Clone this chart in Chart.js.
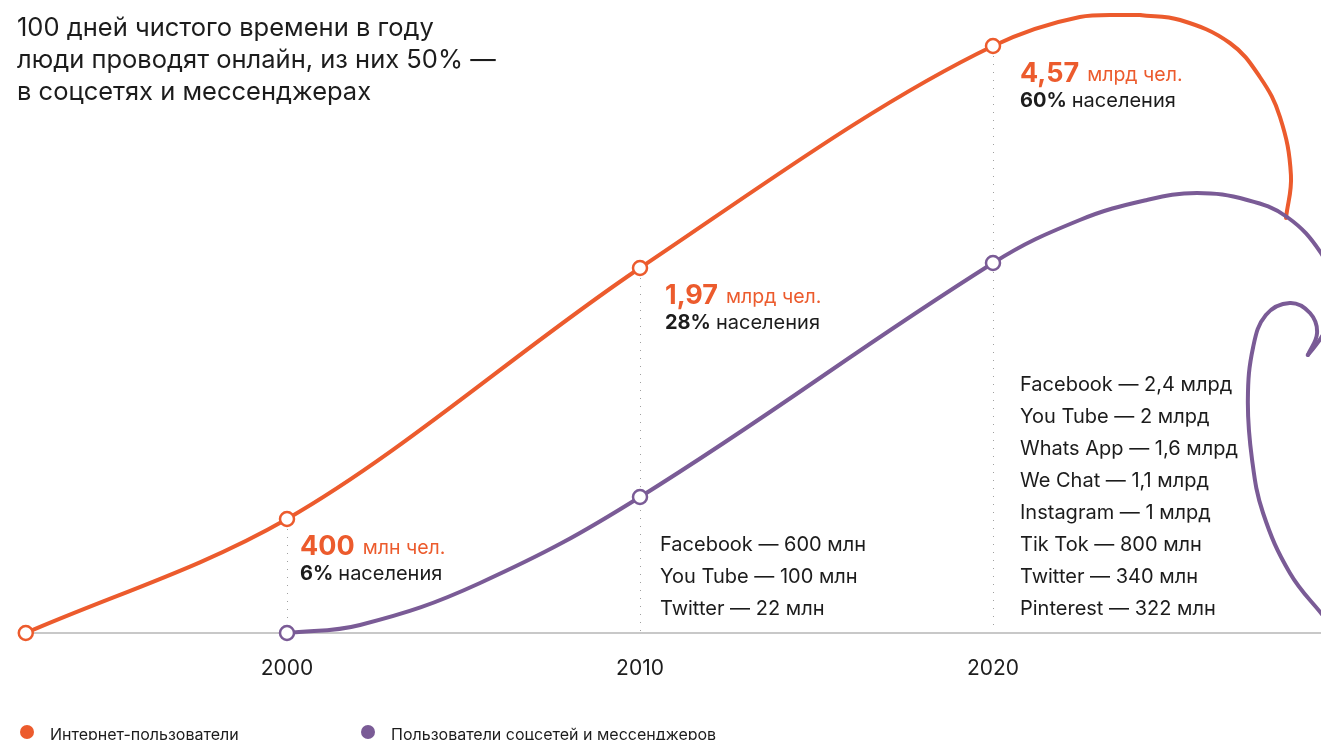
<!DOCTYPE html>
<html>
<head>
<meta charset="utf-8">
<script src="https://cdn.jsdelivr.net/npm/chart.js@4"></script>
<style>
  html, body { margin: 0; padding: 0; background: #fff; }
  #wrap { width: 1321px; height: 740px; overflow: hidden; }
</style>
</head>
<body>
<div id="wrap"><canvas id="chart" width="1321" height="740"></canvas></div>
<script>
// --- data ---
// heights are the visual height of each point above the baseline (the chart is not to scale)
const internetYears = [1992.6, 2000, 2010, 2020, 2022.46, 2023.31, 2024.16];
const internetHeight = [0, 114, 365, 587, 616, 618, 618];
const internetMarkers = [true, true, true, true, false, false, false];
const socialYears = [2000, 2002.07, 2005.47, 2010, 2020];
const socialHeight = [0, 8, 50, 136, 370];
const socialMarkers = [true, false, false, true, true];

// decorative continuation of the curves past 2020 (loops at the right edge)
const internetTailYears = [2024.16, 2025.3, 2026.71, 2027.56, 2028.13, 2028.44, 2028.3];
const internetTailHeight = [618, 613, 590, 556, 516, 458, 415];
const socialTailYears = [2022.46, 2024.36, 2025.78, 2027.2, 2028.33, 2029.29, 2029.9, 2029.29, 2028.92];
const socialTailHeight = [413, 433, 440, 433, 416, 380, 333, 295, 278];
const socialLoopYears = [2028.92, 2029.18, 2028.98, 2028.41, 2027.73, 2027.37, 2027.22, 2027.34, 2027.65, 2028.41, 2029.29, 2029.97];
const socialLoopHeight = [278, 300, 320, 330, 318, 286, 233, 173, 120, 60, 20, -7];

const yearTicks = [2000, 2010, 2020];

const titleLines = [
  '100 дней чистого времени в году',
  'люди проводят онлайн, из них 50% —',
  'в соцсетях и мессенджерах'
];

const internetValues = ['400', '1,97', '4,57'];
const internetUnits = ['млн чел.', 'млрд чел.', 'млрд чел.'];
const populationShare = ['6%', '28%', '60%'];

const social2010 = ['Facebook — 600 млн', 'You Tube — 100 млн', 'Twitter — 22 млн'];
const social2020 = [
  'Facebook — 2,4 млрд', 'You Tube — 2 млрд', 'Whats App — 1,6 млрд', 'We Chat — 1,1 млрд',
  'Instagram — 1 млрд', 'Tik Tok — 800 млн', 'Twitter — 340 млн', 'Pinterest — 322 млн'
];

const seriesNames = ['Интернет-пользователи', 'Пользователи соцсетей и мессенджеров'];

const ORANGE = '#EC5B2D';
const PURPLE = '#7A5B96';
const TEXT = '#1c1c1c';
const FONT = 'Inter, "Noto Sans", sans-serif';

const toPoints = (xs, ys, marks) => xs.map((x, i) => ({ x: x, y: ys[i], marker: marks ? marks[i] : false }));

const internetData = toPoints(internetYears, internetHeight, internetMarkers);
const internetTailData = toPoints(internetTailYears, internetTailHeight);
const socialData = toPoints(socialYears, socialHeight, socialMarkers)
  .concat(toPoints(socialTailYears, socialTailHeight));
const socialLoopData = toPoints(socialLoopYears, socialLoopHeight);

const PX_PER_YEAR = 35.3;
const X_MIN = 2000 - 287 / PX_PER_YEAR;
const X_MAX = 2000 + (1321 - 287) / PX_PER_YEAR;

function lineSet(label, data, color, order, mode) {
  return {
    label: label,
    data: data,
    showLine: true,
    borderColor: color,
    borderWidth: 4,
    tension: 0.4,
    cubicInterpolationMode: mode || 'default',
    clip: false,
    order: order,
    pointRadius: c => (c.raw && c.raw.marker ? 7 : 0),
    pointHoverRadius: c => (c.raw && c.raw.marker ? 7 : 0),
    pointBackgroundColor: '#fff',
    pointBorderColor: color,
    pointBorderWidth: 2.5
  };
}

// --- custom drawing: baseline, dotted guides, titles, annotations, legend ---
const decorPlugin = {
  id: 'decor',
  beforeDatasetsDraw(chart) {
    const ctx = chart.ctx;
    const x = chart.scales.x, y = chart.scales.y;
    const base = y.getPixelForValue(0);
    ctx.save();
    // baseline
    ctx.strokeStyle = '#c8c8c8';
    ctx.lineWidth = 2;
    ctx.beginPath();
    ctx.moveTo(x.getPixelForValue(internetYears[0]), base);
    ctx.lineTo(chart.width, base);
    ctx.stroke();
    // dotted guides under each internet marker
    ctx.strokeStyle = '#a0a0a0';
    ctx.lineWidth = 1;
    ctx.setLineDash([1, 7]);
    yearTicks.forEach(yr => {
      const i = internetYears.indexOf(yr);
      const px = Math.round(x.getPixelForValue(yr)) + 0.5;
      ctx.beginPath();
      ctx.moveTo(px, y.getPixelForValue(internetHeight[i]) + 10);
      ctx.lineTo(px, base - 2);
      ctx.stroke();
    });
    ctx.restore();
  },
  afterDraw(chart) {
    const ctx = chart.ctx;
    const x = chart.scales.x, y = chart.scales.y;
    const base = y.getPixelForValue(0);
    ctx.save();
    ctx.textBaseline = 'middle';
    ctx.textAlign = 'left';

    // title
    ctx.fillStyle = TEXT;
    ctx.font = '25.5px ' + FONT;
    titleLines.forEach((t, i) => ctx.fillText(t, 17, 28 + i * 32));

    // internet annotations
    const dxs = [13, 25, 27];
    yearTicks.forEach((yr, k) => {
      const i = internetYears.indexOf(yr);
      const px = x.getPixelForValue(yr) + dxs[k];
      const py = y.getPixelForValue(internetHeight[i]) + 28;
      ctx.fillStyle = ORANGE;
      ctx.font = 'bold 27px ' + FONT;
      ctx.fillText(internetValues[k], px, py);
      let w = ctx.measureText(internetValues[k]).width;
      ctx.font = '19.5px ' + FONT;
      ctx.fillText(internetUnits[k], px + w + 8, py + 1);

      ctx.fillStyle = TEXT;
      ctx.font = 'bold 20px ' + FONT;
      ctx.fillText(populationShare[k], px, py + 27);
      w = ctx.measureText(populationShare[k]).width;
      ctx.font = '20px ' + FONT;
      ctx.fillText('населения', px + w + 5, py + 27);
    });

    // social network lists, anchored to the baseline
    ctx.fillStyle = TEXT;
    ctx.font = '20px ' + FONT;
    [[2010, social2010, 20], [2020, social2020, 27]].forEach(([yr, list, dx]) => {
      const px = x.getPixelForValue(yr) + dx;
      list.forEach((t, i) => {
        ctx.fillText(t, px, base - 24 - (list.length - 1 - i) * 32);
      });
    });

    // legend
    const legendX = [27, 368];
    const colors = [ORANGE, PURPLE];
    ctx.font = '16px ' + FONT;
    seriesNames.forEach((n, i) => {
      ctx.fillStyle = colors[i];
      ctx.beginPath();
      ctx.arc(legendX[i], 732, 7, 0, Math.PI * 2);
      ctx.fill();
      ctx.fillStyle = TEXT;
      ctx.fillText(n, legendX[i] + 23, 735);
    });
    ctx.restore();
  }
};

const ctx = document.getElementById('chart').getContext('2d');
new Chart(ctx, {
  type: 'scatter',
  data: {
    datasets: [
      lineSet(seriesNames[0], internetData, ORANGE, 3, 'monotone'),
      lineSet(seriesNames[0] + ' (петля)', internetTailData, ORANGE, 2),
      lineSet(seriesNames[1], socialData, PURPLE, 1),
      lineSet(seriesNames[1] + ' (петля)', socialLoopData, PURPLE, 0)
    ]
  },
  options: {
    responsive: false,
    animation: false,
    layout: { padding: 0, autoPadding: false },
    elements: { line: { capBezierPoints: false, borderCapStyle: 'round' } },
    plugins: { legend: { display: false }, tooltip: { enabled: false } },
    scales: {
      x: {
        type: 'linear',
        min: X_MIN,
        max: X_MAX,
        grid: { display: false, drawTicks: false },
        border: { display: false },
        ticks: {
          color: TEXT,
          font: { family: FONT, size: 21 },
          padding: 23,
          callback: v => String(v)
        },
        afterBuildTicks: s => { s.ticks = yearTicks.map(v => ({ value: v })); },
        afterFit: s => { s.height = 107; }
      },
      y: { display: false, min: 0, max: 633 }
    }
  },
  plugins: [decorPlugin]
});
</script>
</body>
</html>
